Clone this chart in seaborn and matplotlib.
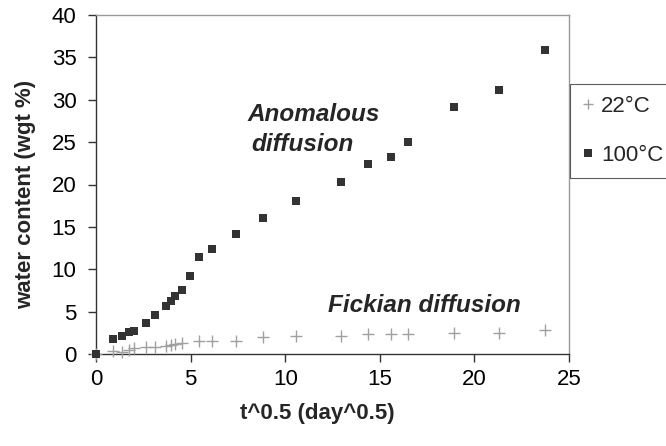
import matplotlib
matplotlib.use("Agg")
import matplotlib.pyplot as plt
import seaborn as sns
import pandas as pd
from matplotlib.lines import Line2D

# ---- data ----
x_100 = [0, 0.88, 1.37, 1.76, 1.99, 2.64, 3.13, 3.71, 3.96, 4.2, 4.54, 4.96, 5.45,
         6.12, 7.42, 8.82, 10.57, 12.96, 14.36, 15.6, 16.5, 18.9, 21.3, 23.75]
y_100 = [0, 1.77, 2.16, 2.56, 2.71, 3.66, 4.6, 5.7, 6.2, 6.84, 7.55, 9.2, 11.45,
         12.35, 14.2, 16.1, 18.1, 20.3, 22.4, 23.3, 24.97, 29.1, 31.1, 35.9]
x_22 = [0, 0.88, 1.37, 1.76, 1.99, 2.64, 3.13, 3.71, 3.96, 4.2, 4.54, 5.45,
        6.12, 7.42, 8.82, 10.57, 12.96, 14.36, 15.6, 16.5, 18.9, 21.3, 23.75]
y_22 = [0, 0.3, 0.2, 0.47, 0.67, 0.79, 0.79, 0.98, 1.06, 1.18, 1.26, 1.53,
        1.53, 1.53, 1.97, 2.16, 2.16, 2.36, 2.36, 2.36, 2.5, 2.5, 2.8]
series_labels = ["22°C", "100°C"]
x_ticks = [0, 5, 10, 15, 20, 25]
y_ticks = [0, 5, 10, 15, 20, 25, 30, 35, 40]

df22 = pd.DataFrame({"x": x_22, "y": y_22})
df100 = pd.DataFrame({"x": x_100, "y": y_100})

sns.set_style("white")
plt.rcParams["font.family"] = ["Liberation Sans", "DejaVu Sans"]

c22 = "#A0A0A0"
c100 = "#333333"

fig = plt.figure(figsize=(6.66, 4.46), dpi=100)
ax = fig.add_axes([96/666, 1-354/446, (569-96)/666, (354-15)/446])

sns.scatterplot(data=df22, x="x", y="y", marker="+", color=c22, s=64,
                linewidth=1.0, ax=ax, zorder=3, legend=False, clip_on=False)
sns.scatterplot(data=df100, x="x", y="y", marker="s", color=c100, s=33,
                linewidth=0, ax=ax, zorder=4, legend=False, clip_on=False)

ax.set_xlim(0, 25)
ax.set_ylim(0, 40)
ax.set_xticks(x_ticks)
ax.set_yticks(y_ticks)
ax.tick_params(axis="both", which="major", labelsize=16, length=6, width=1.0,
               color="#333333", direction="out", labelcolor="black")
ax.tick_params(axis="y", pad=8)
ax.tick_params(axis="x", pad=5)
ax.xaxis.set_ticks_position("bottom")
ax.yaxis.set_ticks_position("left")

for s in ["left", "bottom"]:
    ax.spines[s].set_color("#333333")
    ax.spines[s].set_linewidth(1.0)
for s in ["top", "right"]:
    ax.spines[s].set_color("#999999")
    ax.spines[s].set_linewidth(1.0)
for s in ax.spines.values():
    s.set_visible(True)
    s.set_zorder(2)

ax.set_xlabel("t^0.5 (day^0.5)", fontsize=16, fontweight="bold", va="center")
ax.set_ylabel("water content (wgt %)", fontsize=16, fontweight="bold", va="center")
ax.xaxis.set_label_coords((317-96)/473, (354-414)/339)
ax.yaxis.set_label_coords((26-96)/473, (354-194)/339)

ax.text(11.5, 27.5, "Anomalous", fontsize=17.5, fontweight="bold", style="italic",
        ha="center", va="baseline")
ax.text(10.94, 24.0, "diffusion", fontsize=17.5, fontweight="bold", style="italic",
        ha="center", va="baseline")
ax.text(12.27, 4.99, "Fickian diffusion", fontsize=17.5, fontweight="bold",
        style="italic", ha="left", va="baseline")

handles = [
    Line2D([], [], linestyle="none", marker="+", color=c22, markersize=7, markeredgewidth=1.0),
    Line2D([], [], linestyle="none", marker="s", color=c100, markersize=5.5, markeredgewidth=0),
]
leg = ax.legend(handles, series_labels, loc="upper left",
                bbox_to_anchor=(570/666, 1-84/446, 125/666, 0),
                bbox_transform=fig.transFigure, mode="expand", borderaxespad=0,
                fontsize=16, frameon=True, fancybox=False, borderpad=0.55,
                labelspacing=1.25, handlelength=0.5, handletextpad=0.35)
leg.get_frame().set_edgecolor("#333333")
leg.get_frame().set_linewidth(0.8)
leg.set_clip_on(False)

fig.savefig("out.png", dpi=100)
